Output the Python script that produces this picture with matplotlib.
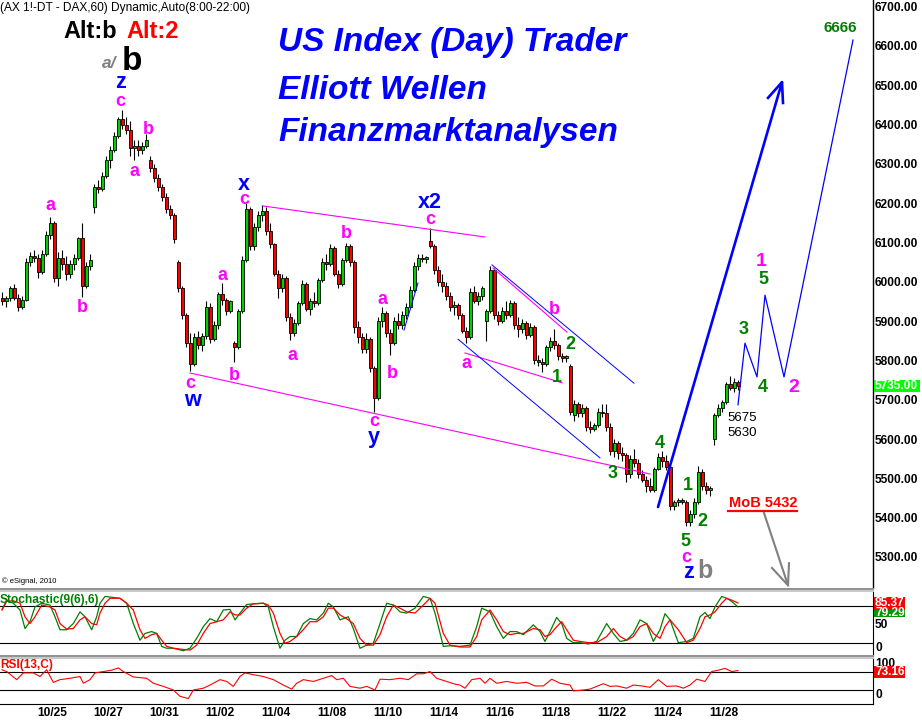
import numpy as np
import matplotlib
matplotlib.use("Agg")
import matplotlib.pyplot as plt
from matplotlib.patches import Rectangle
from matplotlib.lines import Line2D

plt.rcParams['font.family'] = ['Liberation Sans', 'DejaVu Sans']

# ---------------- data (hourly DAX candles) ----------------
opens = [5960,5950,5958,5985,5960,5935,5955,6050,6065,6060,6025,6070,6120,6150,6010,6060,6045,6020,6045,6060,
         6112,5990,6040,6190,6240,6235,6270,6310,6335,6370,6415,6400,6385,6340,6345,6335,6345,6310,6290,6265,
         6240,6215,6185,6170,6050,5985,5915,5845,5790,5860,5840,5862,5935,5855,5890,5970,5955,5925,5845,5835,
         5925,6055,6185,6090,6140,6170,6180,6130,6095,6020,5985,6010,5910,5870,5895,5945,5995,5930,5950,5945,
         6005,6050,6045,6085,6020,5995,6055,6090,6050,5885,5860,5830,5855,5780,5705,5900,5920,5870,5845,5900,
         5890,5915,5935,5980,6040,6060,6058,6105,6090,6030,6000,5990,5965,5935,5940,5915,5875,5860,5975,5950,
         5965,5900,5925,6030,5915,5900,5925,5915,5945,5890,5880,5895,5865,5885,5800,5795,5790,5835,5850,5840,
         5810,5805,5785,5660,5690,5665,5680,5630,5625,5635,5670,5665,5630,5570,5590,5565,5560,5510,5550,5540,
         5510,5495,5480,5470,5525,5555,5545,5530,5430,5440,5445,5440,5390,5410,5440,5515,5480,5470,5600,5660,
         5680,5695,5740,5730,5745]
highs = [5975,5965,5990,5995,5970,5965,6060,6075,6080,6070,6080,6130,6165,6155,6075,6080,6065,6055,6070,6115,
         6150,6050,6070,6250,6260,6280,6320,6345,6380,6420,6438,6420,6410,6360,6360,6355,6375,6320,6300,6275,
         6250,6225,6195,6175,6055,5990,5920,5870,5870,5875,5870,5950,5945,5900,5975,5997,5960,5955,5850,5930,
         6065,6200,6190,6150,6180,6195,6190,6150,6100,6030,6020,6015,5920,5905,5950,6005,6000,5960,5975,6010,
         6060,6070,6095,6090,6030,6060,6100,6095,6055,5900,5870,5870,5860,5785,5910,5935,5925,5880,5910,5920,
         5925,5945,5990,6050,6070,6070,6065,6137,6095,6040,6020,6000,5975,5950,5945,5920,5885,5985,5990,5975,
         5990,5930,6040,6035,5925,5935,5950,5955,5950,5910,5905,5900,5895,5890,5815,5805,5840,5860,5880,5845,
         5820,5815,5790,5700,5695,5690,5685,5645,5640,5680,5690,5690,5640,5600,5595,5580,5565,5560,5575,5550,
         5520,5505,5500,5530,5565,5570,5560,5535,5445,5450,5450,5445,5420,5450,5531,5525,5490,5480,5665,5690,
         5700,5745,5760,5755,5750]
lows = [5940,5935,5950,5955,5925,5930,5950,6040,6050,6010,6020,6065,6110,6000,5990,6030,6005,6010,6030,6055,
        5962,5985,6030,6175,6225,6230,6265,6290,6330,6365,6390,6375,6320,6310,6320,6325,6340,6280,6255,6230,
        6205,6175,6160,6100,5975,5905,5835,5772,5785,5830,5825,5855,5845,5850,5880,5940,5915,5920,5797,5830,
        5920,6050,6080,6080,6130,6155,6120,6085,6015,5960,5975,5900,5853,5862,5890,5940,5925,5915,5935,5940,
        6000,6030,6040,6015,5985,5990,6050,6040,5870,5845,5820,5820,5770,5670,5700,5885,5860,5815,5840,5880,
        5880,5905,5930,5975,6030,6050,6048,6085,6020,5990,5975,5955,5925,5915,5905,5870,5845,5855,5945,5940,
        5955,5850,5920,5905,5890,5895,5905,5910,5880,5860,5870,5855,5860,5790,5785,5770,5785,5825,5830,5800,
        5795,5795,5660,5645,5655,5655,5620,5615,5620,5630,5655,5620,5560,5555,5550,5545,5490,5500,5530,5500,
        5490,5465,5465,5465,5520,5530,5520,5420,5420,5430,5435,5380,5380,5400,5435,5470,5460,5455,5585,5655,
        5670,5690,5725,5720,5725]
closes = [5950,5958,5985,5960,5935,5955,6050,6065,6060,6025,6070,6120,6150,6010,6060,6045,6020,6045,6060,6112,
          5990,6040,6055,6240,6235,6270,6310,6335,6370,6415,6400,6385,6340,6345,6335,6345,6362,6290,6265,6240,
          6215,6185,6170,6108,5985,5915,5845,5790,5860,5840,5862,5935,5855,5890,5970,5955,5925,5950,5835,5925,
          6055,6185,6090,6140,6170,6180,6130,6095,6020,5985,6010,5910,5870,5895,5945,5995,5930,5950,5945,6005,
          6050,6045,6085,6020,5995,6055,6090,6050,5885,5860,5830,5855,5780,5705,5900,5920,5870,5845,5900,5890,
          5915,5935,5980,6040,6060,6058,6062,6090,6030,6000,5990,5965,5935,5940,5915,5875,5860,5975,5950,5965,
          5985,5925,6030,5915,5900,5925,5915,5945,5890,5880,5895,5865,5885,5800,5795,5790,5835,5850,5840,5810,
          5805,5810,5670,5690,5665,5680,5630,5625,5635,5670,5665,5630,5570,5590,5565,5560,5510,5550,5540,5510,
          5495,5480,5470,5525,5555,5545,5530,5430,5440,5445,5440,5390,5410,5440,5515,5480,5470,5475,5660,5680,
          5695,5740,5730,5745,5735]

date_labels = ["10/25","10/27","10/31","11/02","11/04","11/08","11/10","11/14",
               "11/16","11/18","11/22","11/24","11/28"]
date_ticks = [12.5 + 14 * k for k in range(len(date_labels))]

# Stochastic(9(6),6): bar position, %K (green), %D (red)
stoch_x = [0,1.17,2.83,4.5,5.75,7.0,8.25,9.92,12.0,13.25,14.5,16.17,17.83,19.5,20.75,22.42,23.67,24.5,25.75,27.0,
           29.5,31.17,32.83,34.5,35.75,37.42,38.67,39.92,41.17,42.83,45.33,47.0,48.67,50.33,52.0,53.67,55.33,57.0,58.25,59.5,
           61.17,62.83,65.33,66.58,67.83,69.5,70.75,72.0,73.67,75.33,77.0,78.67,80.33,81.58,82.83,84.5,86.58,87.83,89.5,91.17,
           92.83,94.5,96.17,97.83,99.5,101.17,103.25,105.33,107.0,108.25,110.33,112.0,114.5,117.0,118.67,119.92,122.0,123.67,125.33,127.0,
           128.67,130.33,132.83,134.5,135.75,137.0,138.67,139.92,141.17,142.83,144.5,146.58,148.67,151.17,152.83,154.5,156.17,157.83,159.5,161.17,
           162.83,164.5,165.75,167.0,169.08,171.17,172.83,174.5,175.75,177.0,178.25,179.92,181.17,182.42,184.0]
stoch_k = [75,90,85,74,44,55,79,85,82,63,42,42,52,71,63,42,63,85,96,95,
           93,85,52,25,36,39,36,15,12,12,8,12,28,47,60,55,74,75,58,69,
           83,84,85,79,47,12,25,31,31,52,60,58,69,85,79,58,63,44,12,17,
           20,52,85,82,71,69,77,96,93,69,15,16,15,17,47,77,71,47,28,39,
           39,34,50,39,23,39,62,52,28,21,21,19,23,52,36,23,25,36,58,52,
           23,42,68,58,21,23,28,63,70,60,79,96,93,88,79]
stoch_d = [74,88,89,85,63,52,63,82,79,74,52,43,44,58,63,52,50,69,85,93,
           93,85,74,42,28,34,36,25,15,12,10,9,17,36,52,55,58,71,66,66,
           77,84,85,82,69,36,20,23,31,42,55,55,63,77,77,66,58,52,28,17,
           17,34,63,82,77,71,69,82,93,85,36,17,14,14,31,58,74,58,39,34,
           36,36,44,42,31,34,47,55,42,25,23,21,21,31,44,31,25,31,47,52,
           36,28,47,58,42,21,25,44,63,66,71,85,93,90,85.37]

# RSI(13,C): bar position, value
rsi_x = [0,1.17,3.67,5.33,7.83,9.5,11.17,12.83,14.5,17.0,19.5,20.33,22.0,23.25,25.33,27.42,29.08,30.33,32.83,36.17,
         37.83,40.33,42.83,44.5,46.58,47.83,50.33,52.0,54.5,56.17,57.83,59.5,60.75,62.83,65.33,67.83,70.33,72.42,73.67,75.33,
         77.83,80.33,82.42,83.67,85.33,87.0,89.5,91.17,93.25,94.5,97.0,99.5,101.58,103.67,105.33,107.0,108.67,111.17,113.25,114.5,
         115.75,117.42,119.5,120.75,122.0,123.67,126.17,128.67,131.17,133.25,135.33,137.42,139.5,142.0,142.83,145.33,147.0,148.67,150.33,152.0,
         153.67,156.17,157.83,159.92,162.0,164.08,166.17,168.67,170.33,172.0,173.67,175.75,177.42,179.08,180.75,182.42,184.0]
rsi_v = [75,71,53,68,68,60,75,47,53,56,60,45,53,68,71,74,79,71,59,56,
         45,38,30,16,11,30,34,41,53,49,38,60,68,64,60,53,41,32,45,53,
         49,56,62,53,56,38,34,38,30,54,53,56,53,66,66,71,56,49,43,41,
         34,53,56,45,56,45,49,45,47,39,39,54,45,41,28,30,32,38,44,38,
         39,34,41,39,36,53,38,39,34,41,54,49,71,74,78,71,73.16]

# drawing-tool lines (bar index, price)
magenta_lines = [[(65.25, 6193), (120.75, 6114)], [(47.0, 5768), (162.0, 5511)],
                 [(115.75, 5819), (140.0, 5743)], [(122.75, 6035), (141.25, 5872)]]
blue_thin_lines = [[(122.5, 6043), (158.0, 5742)], [(114.0, 5854), (149.5, 5552)],
                   [(100.5, 5877), (104.0, 5997)]]
big_arrow = [(164.0, 5427), (195.0, 6508)]
big_arrow_head = [(191.5, 6468), (195.0, 6508), (195.25, 6455)]
zigzag_x = [184.0, 185.75, 188.75, 190.75, 195.5, 212.75]
zigzag_p = [5687, 5844, 5758, 5966, 5758, 6615]
gray_arrow = [(190.5, 5412), (196.5, 5228)]
gray_arrow_head = [(192.5, 5272), (196.5, 5228), (196.75, 5284)]

# ---------------- layout ----------------
W, H = 922, 720
fig = plt.figure(figsize=(W / 100, H / 100), dpi=100)
fig.patch.set_facecolor('white')

def fr(x0, y0, x1, y1):
    return [x0 / W, 1 - y1 / H, (x1 - x0) / W, (y1 - y0) / H]

def T(x, y, s, size, color='black', weight='bold', style='normal', ha='center', va='center', **kw):
    return fig.text(x / W, 1 - y / H, s, fontsize=size, color=color, fontweight=weight,
                    fontstyle=style, ha=ha, va=va, **kw)

XL = (-0.5, 217.75)
GREEN_C = '#00d000'
RED_C = '#ff0000'

ax = fig.add_axes(fr(0, 0, 873, 588))
ax.set_xlim(*XL)
ax.set_ylim(5221, 6717)

o = np.array(opens, float); h = np.array(highs, float)
l = np.array(lows, float); c = np.array(closes, float)
xb = np.arange(len(c))
up = c >= o
body = np.maximum(np.abs(c - o), 2.0)
ax.vlines(xb, l, h, color='black', lw=0.8, zorder=2)
ax.bar(xb, body, bottom=np.minimum(o, c), width=0.75,
       color=np.where(up, GREEN_C, RED_C), edgecolor='black', linewidth=0.6, zorder=3)

for seg in magenta_lines:
    (x0, y0), (x1, y1) = seg
    ax.plot([x0, x1], [y0, y1], color='#ff00ff', lw=0.8, zorder=4)
for seg in blue_thin_lines:
    (x0, y0), (x1, y1) = seg
    ax.plot([x0, x1], [y0, y1], color='#0000ff', lw=0.7, zorder=4)
ax.plot([p[0] for p in big_arrow], [p[1] for p in big_arrow], color='#0000ff', lw=1.9, zorder=4,
        solid_capstyle='round')
ax.plot([p[0] for p in big_arrow_head], [p[1] for p in big_arrow_head], color='#0000ff', lw=1.9, zorder=4)
ax.plot(zigzag_x, zigzag_p, color='#0000ff', lw=0.9, zorder=4)
ax.plot([p[0] for p in gray_arrow], [p[1] for p in gray_arrow], color='#808080', lw=1.5, zorder=4)
ax.plot([p[0] for p in gray_arrow_head], [p[1] for p in gray_arrow_head], color='#808080', lw=1.5, zorder=4)

for s in ['top', 'left', 'bottom']:
    ax.spines[s].set_visible(False)
ax.spines['right'].set_linewidth(1.0)
ax.yaxis.tick_right()
ax.set_yticks(np.arange(5300, 6701, 100))
ax.set_yticklabels([f"{v:.2f}" for v in np.arange(5300, 6701, 100)])
ax.tick_params(axis='y', length=0, pad=1.5, labelsize=8.6)
for t in ax.get_yticklabels():
    t.set_fontweight('bold')
ax.set_xticks([])

# Stochastic panel
ax2 = fig.add_axes(fr(0, 592, 873, 656))
ax2.set_xlim(*XL)
ax2.set_ylim(-0.6, 103.2)
ax2.axhline(80, color='black', lw=0.8)
ax2.axhline(20, color='black', lw=0.8)
ax2.plot(stoch_x, stoch_k, color='#008000', lw=0.9)
ax2.plot(stoch_x, stoch_d, color='#ff0000', lw=0.9)
for s in ['top', 'left', 'bottom']:
    ax2.spines[s].set_visible(False)
ax2.set_xticks([]); ax2.set_yticks([])

# RSI panel
ax3 = fig.add_axes(fr(0, 658, 873, 703.5))
ax3.set_xlim(*XL)
ax3.set_ylim(0, 101.1)
ax3.axhline(70, color='black', lw=0.8)
ax3.axhline(30, color='black', lw=0.8)
ax3.plot(rsi_x, rsi_v, color='#ff0000', lw=0.8)
for s in ['top', 'left']:
    ax3.spines[s].set_visible(False)
ax3.set_yticks([])
ax3.set_xticks(date_ticks)
ax3.set_xticklabels(date_labels)
ax3.tick_params(axis='x', length=0, pad=2.5, labelsize=8.6)
for t in ax3.get_xticklabels():
    t.set_fontweight('bold')

# panel separators
for yy, col in [(588.5, '#909090'), (590.5, '#c8c8c8'), (655.5, '#909090'), (657.5, '#c8c8c8')]:
    fig.add_artist(Line2D([0, 873 / W], [1 - yy / H, 1 - yy / H], color=col, lw=1.4,
                          transform=fig.transFigure))

# right-side value boxes
def box(x0, y0, x1, y1, color, text, tcolor='white'):
    fig.add_artist(Rectangle((x0 / W, 1 - y1 / H), (x1 - x0) / W, (y1 - y0) / H,
                             transform=fig.transFigure, facecolor=color, edgecolor='none', zorder=5))
    fig.text((x0 + 1) / W, 1 - (y0 + y1) / 2 / H, text, fontsize=8.6, fontweight='bold',
             color=tcolor, ha='left', va='center', zorder=6)

T(875, 625, "50", 8.6, ha='left')
T(875, 648, "0", 8.6, ha='left')
T(875, 664, "100", 8.6, ha='left')
T(875, 695, "0", 8.6, ha='left')
box(874, 380, 920, 392, '#00ff00', "5735.00")
box(874, 608, 905, 617, '#009900', "79.29")
box(874, 597, 905, 610, '#ff0000', "85.37")
box(874, 666, 905, 678, '#ff0000', "73.16")

# header texts
T(0, 8, "(AX 1!-DT - DAX,60) Dynamic,Auto(8:00-22:00)", 8.6, weight='normal', ha='left')
T(63, 31, "Alt:b", 17, ha='left')
T(126, 31, "Alt:2", 17, color='#ff0000', ha='left')
T(102, 64, "a/", 12.5, color='#808080', style='italic', ha='left')
T(122, 61, "b", 24, ha='left')
T(278, 51, "US Index (Day) Trader", 24, color='#0000ff', style='italic', ha='left', va='baseline')
T(278, 99, "Elliott Wellen", 24, color='#0000ff', style='italic', ha='left', va='baseline')
T(278, 141, "Finanzmarktanalysen", 24, color='#0000ff', style='italic', ha='left', va='baseline')
T(2, 581, "\u00a9 eSignal, 2010", 5.5, weight='normal', ha='left')
T(0, 600, "Stochastic(9(6),6)", 8.6, color='#008000', ha='left')
T(0, 665, "RSI(13,C)", 8.6, color='#ff0000', ha='left')

# wave labels
MAG, BLU, GRN = '#ff00ff', '#0000ff', '#008000'
for s, x, y in [('a', 50, 206), ('b', 82, 307), ('c', 120, 101), ('b', 148, 129), ('a', 134, 171),
                ('c', 190, 384), ('a', 222, 276), ('b', 234, 375), ('c', 244, 199), ('a', 292, 356),
                ('b', 346, 234), ('a', 382, 299), ('b', 392, 373), ('c', 374, 422), ('c', 430, 220),
                ('a', 466, 364), ('b', 554, 310), ('c', 686, 558)]:
    T(x, y, s, 13, color=MAG)
T(761, 262, "1", 14, color=MAG)
T(794, 387, "2", 14, color=MAG)
for s, x, y in [('z', 120, 82), ('w', 192, 401), ('x', 244, 185), ('y', 374, 438),
                ('x2', 430, 203), ('z', 688, 573)]:
    T(x, y, s, 15.5, color=BLU)
T(705, 571, "b", 18, color='#808080')
for s, x, y in [('1', 557, 377), ('2', 570, 344), ('3', 613, 473), ('4', 660, 443), ('5', 685, 542),
                ('1', 688, 486), ('2', 702, 521), ('3', 744, 330), ('4', 763, 388), ('5', 763, 280)]:
    T(x, y, s, 13, color=GRN)
T(840, 28, "6666", 11, color=GRN)
T(727, 418, "5675", 9.5, weight='normal', ha='left')
T(727, 433, "5630", 9.5, weight='normal', ha='left')
T(763, 503, "MoB 5432", 10.5, color='#ff0000')
fig.add_artist(Line2D([728 / W, 797 / W], [1 - 511 / H, 1 - 511 / H], color='#ff0000', lw=1.6,
                      transform=fig.transFigure))

fig.savefig("out.png", dpi=100, facecolor='white')
